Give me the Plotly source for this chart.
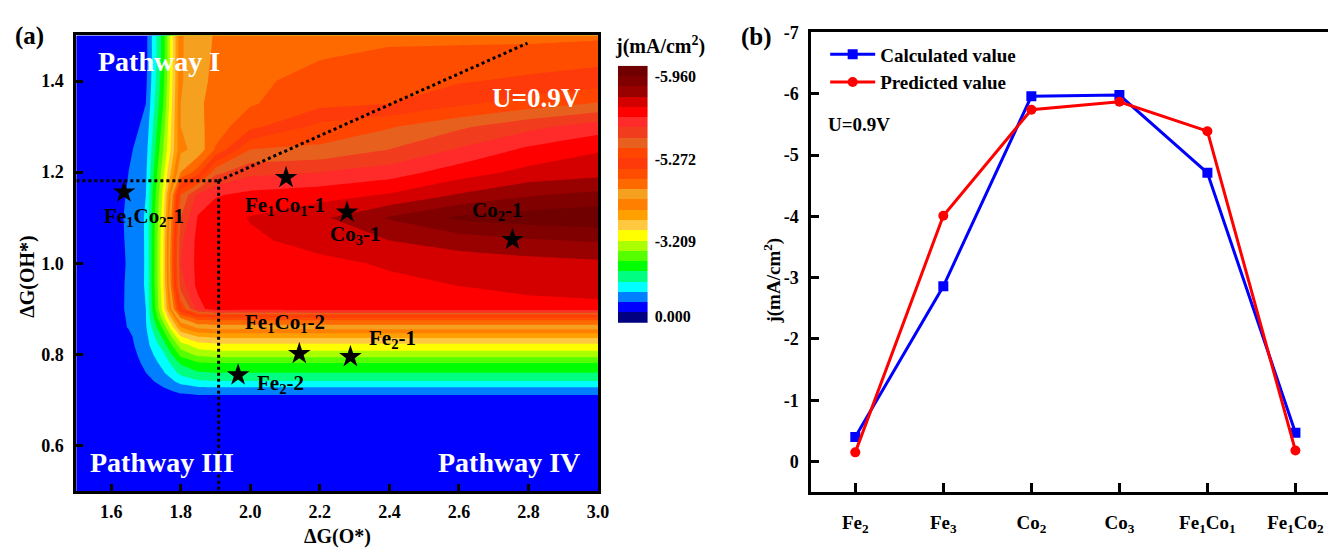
import plotly.graph_objects as go

# ---------------- Panel (a): contour map data (band index of j) ----------------
# band 0 -> 0.000 ... band 24 -> -5.960 mA/cm2 (equal-height colorbar bands)
dGO = [1.5, 1.6, 1.65, 1.7, 1.75, 1.8, 1.85, 1.9, 2.0, 2.2, 2.4, 2.6, 2.8, 3.0]
dGOH = [0.5, 0.6, 0.7, 0.72, 0.74, 0.76, 0.78, 0.80, 0.82, 0.84, 0.86, 0.88, 0.90,
        0.95, 1.0, 1.05, 1.1, 1.15, 1.2, 1.25, 1.3, 1.35, 1.4, 1.45, 1.5]
band = [
    [1, 1, 1, 1, 1, 1, 1, 1, 1, 1, 1, 1, 1, 1],
    [1, 1, 1, 1, 1, 1, 1, 1, 1, 1, 1, 1, 1, 1],
    [1, 1, 1, 1, 1, 1, 1, 1, 1, 1, 1, 1, 1, 1],
    [1, 1, 1, 1, 1.3, 1.7, 1.9, 1.9, 1.9, 1.9, 1.9, 1.9, 1.9, 1.9],
    [1, 1, 1, 1.2, 1.8, 2.8, 3.3, 3.4, 3.4, 3.4, 3.4, 3.4, 3.4, 3.4],
    [1, 1, 1, 1.5, 2.4, 3.8, 4.4, 4.5, 4.5, 4.5, 4.5, 4.5, 4.5, 4.5],
    [1, 1, 1, 1.7, 2.8, 4.6, 5.3, 5.4, 5.4, 5.4, 5.4, 5.4, 5.4, 5.4],
    [1, 1, 1.1, 1.9, 3.3, 5.8, 6.8, 7.0, 7.0, 7.0, 7.0, 7.0, 7.0, 7.0],
    [1, 1, 1.2, 2.1, 4.0, 7.0, 8.0, 8.2, 8.2, 8.2, 8.2, 8.2, 8.2, 8.2],
    [1, 1, 1.3, 2.2, 4.8, 8.5, 9.6, 9.8, 9.8, 9.8, 9.8, 9.8, 9.8, 9.8],
    [1, 1, 1.55, 2.4, 5.8, 10.5, 11.8, 12.0, 12.0, 12.0, 12.0, 12.0, 12.0, 12.0],
    [1, 1, 1.6, 2.5, 7.0, 12.5, 14.0, 14.0, 14.0, 14.0, 14.0, 14.0, 14.0, 14.0],
    [1, 1.05, 1.65, 2.5, 8.0, 15.5, 19.0, 20.2, 20.0, 20.2, 20.2, 20.2, 20.2, 20.2],
    [1, 1, 1.65, 2.6, 8.4, 18.0, 19.8, 20.0, 20.1, 20.2, 20.3, 20.5, 20.7, 20.9],
    [1, 1, 1.6, 2.6, 8.5, 18.5, 19.8, 20.0, 20.2, 20.3, 20.6, 20.9, 21.1, 21.3],
    [1, 1, 1.65, 2.6, 8.4, 18.3, 19.8, 20.0, 20.35, 20.8, 21.5, 22.0, 22.4, 22.6],
    [1, 1, 1.7, 2.6, 8.2, 17.5, 19.6, 20.1, 20.55, 21.3, 22.6, 23.7, 24.0, 24.2],
    [1, 1, 1.6, 2.5, 7.8, 16.5, 18.8, 19.4, 19.8, 20.1, 20.6, 21.6, 22.4, 22.8],
    [1, 1, 1.5, 2.3, 7.2, 12.5, 14.0, 17.2, 18.2, 18.5, 19.0, 20.0, 20.8, 21.1],
    [1, 1, 1.3, 2.1, 6.5, 11.3, 11.8, 13.6, 16.5, 16.7, 17.5, 18.6, 19.7, 20.4],
    [1, 1, 1, 1.8, 6.0, 11.5, 12.2, 13.0, 14.2, 15.8, 16.4, 17.3, 18.2, 19.0],
    [1, 1, 1, 1.5, 5.5, 11.5, 12.3, 12.9, 13.4, 14.2, 14.5, 15.3, 16.0, 16.6],
    [1, 1, 1, 1.3, 5.2, 11.4, 12.1, 12.8, 13.2, 14.0, 14.2, 14.4, 14.7, 15.0],
    [1, 1, 1, 1.2, 5.0, 11.4, 12.0, 12.7, 13.1, 13.45, 13.8, 13.9, 14.0, 14.2],
    [1, 1, 1, 1.2, 5.0, 11.4, 12.0, 12.6, 13.0, 13.0, 13.2, 13.2, 13.2, 13.3],
]
band_colors = ["#000080", "#0000ff", "#0080ff", "#00ffff", "#00ff80", "#00ff00",
               "#55ff00", "#aaff00", "#ffff00", "#ffc840", "#ffa000", "#ff7f00",
               "#f5a01e", "#ff6a00", "#ff4d00", "#ff3a0a", "#ff4500", "#e8601e",
               "#f23c1e", "#ff2a2a", "#ff0000", "#d40000", "#990000", "#800000",
               "#700000"]
cbar_labels = ["-5.960", "-5.272", "-3.209", "0.000"]
cbar_pos = [23.45, 15.37, 7.39, 0.17]

star_names = ["Fe<sub>1</sub>Co<sub>2</sub>-1", "Fe<sub>1</sub>Co<sub>1</sub>-1",
              "Co<sub>3</sub>-1", "Co<sub>2</sub>-1", "Fe<sub>1</sub>Co<sub>1</sub>-2",
              "Fe<sub>2</sub>-1", "Fe<sub>2</sub>-2"]
star_x = [1.637, 2.103, 2.278, 2.754, 2.141, 2.288, 1.965]
star_y = [1.156, 1.188, 1.112, 1.052, 0.802, 0.795, 0.755]
label_x = [1.695, 2.101, 2.303, 2.712, 2.101, 2.408, 2.087]
label_y = [1.102, 1.126, 1.063, 1.114, 0.870, 0.834, 0.735]

# pathway boundaries
corner = (1.909, 1.181)
diag_end = (2.797, 1.483)

# ---------------- Panel (b) ----------------
categories = ["Fe<sub>2</sub>", "Fe<sub>3</sub>", "Co<sub>2</sub>", "Co<sub>3</sub>",
              "Fe<sub>1</sub>Co<sub>1</sub>", "Fe<sub>1</sub>Co<sub>2</sub>"]
calculated = [-0.40, -2.86, -5.96, -5.98, -4.71, -0.47]
predicted = [-0.15, -4.01, -5.74, -5.87, -5.39, -0.18]
jticks = [0, -1, -2, -3, -4, -5, -6, -7]

W, H = 1339, 548
FONT = "Liberation Serif"


def px(x):
    return x / W


def py(y):
    return 1 - y / H


n = len(band_colors)
cscale = []
for k, c in enumerate(band_colors):
    lo = max(0.0, (k - 0.5) / (n - 1))
    hi = min(1.0, (k + 0.5) / (n - 1))
    cscale.append([lo, c])
    cscale.append([hi, c])

fig = go.Figure()

fig.add_trace(go.Contour(
    x=dGO, y=dGOH, z=band, xaxis="x", yaxis="y",
    colorscale=cscale, showscale=False,
    contours=dict(start=0.5, end=n - 1.5, size=1, coloring="fill", showlines=False),
    line=dict(width=0, smoothing=0), hoverinfo="skip"))

fig.add_trace(go.Scatter(
    x=star_x, y=star_y, mode="markers", xaxis="x", yaxis="y",
    marker=dict(symbol="star", size=17, color="black"), showlegend=False))

# colorbar drawn as a heatmap strip
fig.add_trace(go.Heatmap(
    x=[0], y=list(range(n)), z=[[k] for k in range(n)], xaxis="x3", yaxis="y3",
    colorscale=cscale, zmin=0, zmax=n - 1, showscale=False, hoverinfo="skip"))

fig.add_trace(go.Scatter(
    x=list(range(len(categories))), y=calculated, xaxis="x2", yaxis="y2",
    mode="lines+markers", name="Calculated value",
    line=dict(color="#0000ff", width=3),
    marker=dict(symbol="square", size=10, color="#0000ff")))
fig.add_trace(go.Scatter(
    x=list(range(len(categories))), y=predicted, xaxis="x2", yaxis="y2",
    mode="lines+markers", name="Predicted value",
    line=dict(color="#ff0000", width=3),
    marker=dict(symbol="circle", size=10, color="#ff0000")))


def bold(s, color="black"):
    return dict(family=FONT, size=s, color=color, weight="bold")


axis_common = dict(showline=True, linewidth=3, linecolor="black", ticks="inside",
                   tickwidth=3, tickcolor="black", showgrid=False, zeroline=False)

annotations = []
for name, lx, ly in zip(star_names, label_x, label_y):
    annotations.append(dict(x=lx, y=ly, xref="x", yref="y", text=name, showarrow=False,
                            xanchor="center", yanchor="middle", font=bold(21)))
for txt, x, y, s in [("Pathway I", 1.737, 1.443, 28), ("Pathway III", 1.745, 0.563, 28),
                     ("Pathway IV", 2.743, 0.563, 28), ("U=0.9V", 2.823, 1.363, 27)]:
    annotations.append(dict(x=x, y=y, xref="x", yref="y", text=txt, showarrow=False,
                            xanchor="center", yanchor="middle", font=bold(s, "white")))
for txt, x, y, s, ang in [("(a)", 30, 27, 25, 0), ("(b)", 763, 28, 25, 0),
                          ("ΔG(O*)", 340, 538, 20, 0), ("ΔG(OH*)", 27, 272, 20, -90),
                          ("j(mA/cm<sup>2</sup>)", 665, 36, 20, 0),
                          ("U=0.9V", 866, 117, 19, 0),
                          ("j(mA/cm<sup>2</sup>)", 779, 277, 19, -90)]:
    annotations.append(dict(x=px(x), y=py(y), xref="paper", yref="paper", text=txt,
                            showarrow=False, xanchor="center", yanchor="middle",
                            textangle=ang, font=bold(s)))

shapes = [
    dict(type="line", xref="x", yref="y", x0=1.5, y0=corner[1], x1=corner[0], y1=corner[1],
         line=dict(color="black", width=3, dash="dot")),
    dict(type="line", xref="x", yref="y", x0=corner[0], y0=corner[1], x1=corner[0], y1=0.5,
         line=dict(color="black", width=3, dash="dot")),
    dict(type="line", xref="x", yref="y", x0=corner[0], y0=corner[1], x1=diag_end[0], y1=diag_end[1],
         line=dict(color="black", width=3, dash="dot")),
]

fig.update_layout(
    width=W, height=H, margin=dict(l=0, r=0, t=0, b=0),
    paper_bgcolor="white", plot_bgcolor="white",
    xaxis=dict(domain=[px(77), px(603)], range=[1.5, 3.0], tick0=1.6, dtick=0.2,
               tickformat=".1f", mirror=True, ticklen=7, anchor="y",
               ticklabelstandoff=2, tickfont=bold(18), **axis_common),
    yaxis=dict(domain=[py(492), py(26)], range=[0.5, 1.5], tick0=0.6, dtick=0.2,
               tickformat=".1f", mirror=True, ticklen=7, anchor="x",
               ticklabelstandoff=6, tickfont=bold(18), **axis_common),
    xaxis2=dict(domain=[px(818), 1.0], range=[-0.5, 5.37], tickvals=list(range(len(categories))),
                ticktext=categories, mirror=True, ticklen=9, anchor="y2",
                ticklabelstandoff=11, tickfont=bold(19), **axis_common),
    yaxis2=dict(domain=[py(493), py(23)], range=[0.5, -7], tickvals=jticks,
                ticktext=[str(v) if v == 0 else "-%d" % (-v) for v in jticks],
                ticklen=8, anchor="x2", ticklabelstandoff=6, tickfont=bold(18), **axis_common),
    xaxis3=dict(domain=[px(623), px(653)], range=[-0.5, 0.5], visible=False, anchor="y3"),
    yaxis3=dict(domain=[py(320), py(57)], range=[-0.5, n - 0.5], side="right", anchor="x3",
                tickvals=cbar_pos, ticktext=cbar_labels, ticks="", showline=False,
                showgrid=False, zeroline=False, ticklabelstandoff=6,
                tickfont=bold(16)),
    legend=dict(x=px(832), y=py(26), xanchor="left", yanchor="top", bgcolor="rgba(0,0,0,0)",
                font=bold(19), itemwidth=45, tracegroupgap=0),
    annotations=annotations, shapes=shapes,
)

fig.write_html("out.html")
